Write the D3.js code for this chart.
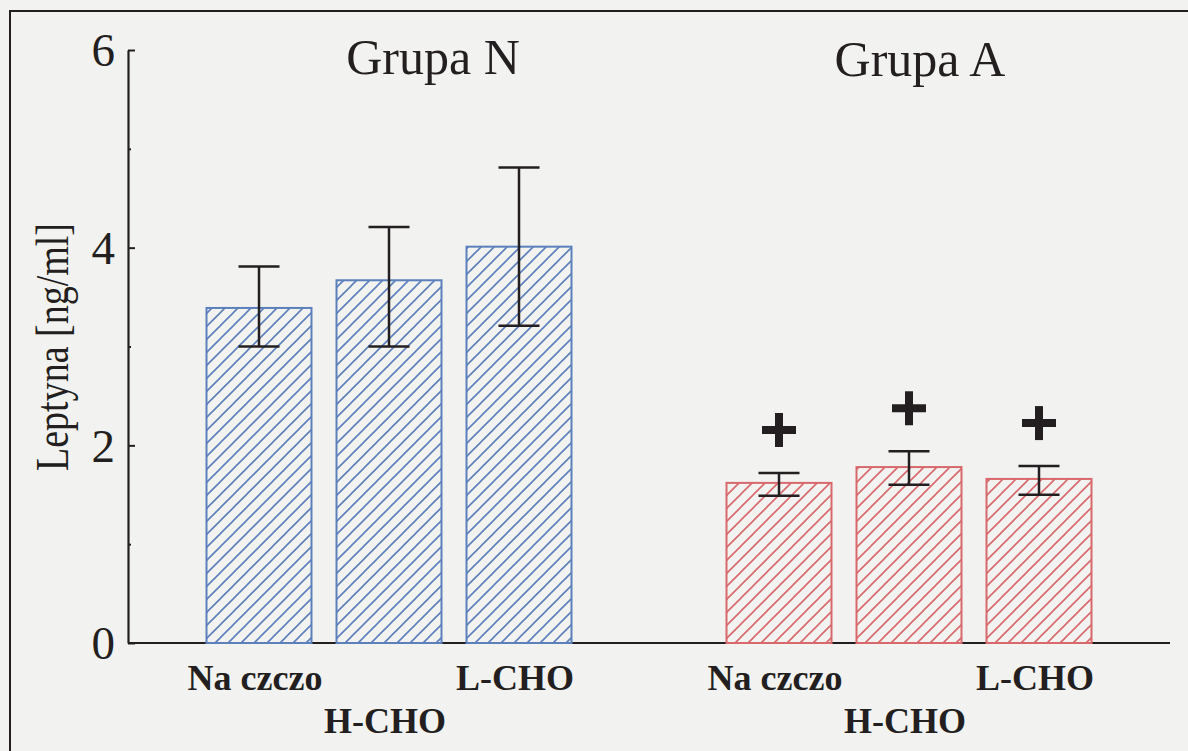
<!DOCTYPE html>
<html>
<head>
<meta charset="utf-8">
<script src="https://cdn.jsdelivr.net/npm/d3@7"></script>
<style>
  body { margin: 0; background: #f2f2f0; }
  svg { display: block; }
  text { font-family: "Liberation Serif", "Times New Roman", serif; fill: #231f20; }
</style>
</head>
<body>
<script>
// data
const categories = ["Na czczo", "H-CHO", "L-CHO"];
const groups = ["Grupa N", "Grupa A"];
const meanN = [3.39, 3.67, 4.01];
const upperN = [3.81, 4.21, 4.81];
const lowerN = [3.0, 3.0, 3.21];
const meanA = [1.62, 1.78, 1.66];
const upperA = [1.72, 1.94, 1.79];
const lowerA = [1.49, 1.60, 1.50];
const signifA = [true, true, true];
const yTicks = [0, 2, 4, 6];
const yMinor = [1, 3, 5];

const W = 1188, H = 751;
const ink = "#231f20";
const colors = ["#5b80bc", "#d8686b"];

var svg = d3.select("body").append("svg")
    .attr("width", W)
    .attr("height", H);

svg.append("rect").attr("width", W).attr("height", H).attr("fill", "#f2f2f0");

// frame of the scanned figure
svg.append("rect")
    .attr("x", 10).attr("y", 11)
    .attr("width", W + 20).attr("height", H + 20)
    .attr("fill", "none")
    .attr("stroke", ink)
    .attr("stroke-width", 2);

// hatch patterns
let defs = svg.append("defs");
colors.forEach(function (c, i) {
    let s = 13;
    defs.append("pattern")
        .attr("id", "hatch" + i)
        .attr("patternUnits", "userSpaceOnUse")
        .attr("width", s).attr("height", s)
        .append("path")
        .attr("d", `M-1,1 L1,-1 M0,${s} L${s},0 M${s - 1},${s + 1} L${s + 1},${s - 1}`)
        .attr("stroke", c)
        .attr("stroke-width", 1.6);
});

// one slot per bar, the empty slot splits the groups
let bars = [];
groups.forEach(function (g, gi) {
    let mean = gi == 0 ? meanN : meanA;
    let up = gi == 0 ? upperN : upperA;
    let lo = gi == 0 ? lowerN : lowerA;
    categories.forEach(function (c, ci) {
        bars.push({
            slot: gi * 4 + ci, group: gi, cat: c, row: ci % 2,
            v: mean[ci], up: up[ci], lo: lo[ci],
            sig: gi == 1 && signifA[ci]
        });
    });
});

let xScale = d3.scalePoint()
    .domain(d3.range(7))
    .range([259, 1039]);

let yScale = d3.scaleLinear()
    .domain([0, 6])
    .range([643, 50]);

let barW = 105;

// y axis
let yAxis = svg.append("g")
    .attr("transform", "translate(128,0)")
    .call(d3.axisLeft(yScale).tickValues(yTicks).tickSize(-7).tickSizeOuter(0).tickPadding(13)
        .tickFormat(d3.format("d")));
yAxis.select(".domain").attr("stroke", ink).attr("stroke-width", 2.2);
yAxis.selectAll(".tick line").attr("stroke", ink).attr("stroke-width", 2);
yAxis.selectAll(".tick text")
    .attr("font-size", 47)
    .attr("font-family", "Liberation Serif, serif")
    .attr("fill", ink)
    .attr("dy", "0.34em");

let yMinorAxis = svg.append("g")
    .attr("transform", "translate(128,0)")
    .call(d3.axisLeft(yScale).tickValues(yMinor).tickSize(-3).tickSizeOuter(0).tickFormat(""));
yMinorAxis.select(".domain").remove();
yMinorAxis.selectAll(".tick line").attr("stroke", ink).attr("stroke-width", 2);

// x baseline
svg.append("line")
    .attr("x1", 128).attr("x2", 1170)
    .attr("y1", yScale(0)).attr("y2", yScale(0))
    .attr("stroke", ink)
    .attr("stroke-width", 2.2);

// bars
svg.selectAll("rect.bar")
    .data(bars)
    .enter()
    .append("rect")
    .attr("class", "bar")
    .attr("x", d => xScale(d.slot) - barW / 2)
    .attr("y", d => yScale(d.v))
    .attr("width", barW)
    .attr("height", d => yScale(0) - yScale(d.v))
    .attr("fill", d => "url(#hatch" + d.group + ")")
    .attr("stroke", d => colors[d.group])
    .attr("stroke-width", 2);

// error bars
let capW = 41;
let err = svg.selectAll("g.err")
    .data(bars)
    .enter()
    .append("g")
    .attr("class", "err")
    .attr("stroke", ink)
    .attr("stroke-width", 2.5);
err.append("line")
    .attr("x1", d => xScale(d.slot)).attr("x2", d => xScale(d.slot))
    .attr("y1", d => yScale(d.up)).attr("y2", d => yScale(d.lo));
err.append("line")
    .attr("x1", d => xScale(d.slot) - capW / 2).attr("x2", d => xScale(d.slot) + capW / 2)
    .attr("y1", d => yScale(d.up)).attr("y2", d => yScale(d.up));
err.append("line")
    .attr("x1", d => xScale(d.slot) - capW / 2).attr("x2", d => xScale(d.slot) + capW / 2)
    .attr("y1", d => yScale(d.lo)).attr("y2", d => yScale(d.lo));

// significance pluses
let plus = 17;
let sig = svg.selectAll("g.sig")
    .data(bars.filter(d => d.sig))
    .enter()
    .append("g")
    .attr("class", "sig")
    .attr("stroke", ink)
    .attr("stroke-width", 8);
sig.append("line")
    .attr("x1", d => xScale(d.slot) - plus).attr("x2", d => xScale(d.slot) + plus)
    .attr("y1", d => yScale(d.up) - 43).attr("y2", d => yScale(d.up) - 43);
sig.append("line")
    .attr("x1", d => xScale(d.slot)).attr("x2", d => xScale(d.slot))
    .attr("y1", d => yScale(d.up) - 43 - plus).attr("y2", d => yScale(d.up) - 43 + plus);

// category labels, staggered in two rows
svg.selectAll("text.cat")
    .data(bars)
    .enter()
    .append("text")
    .attr("class", "cat")
    .attr("x", d => xScale(d.slot) - 4)
    .attr("y", d => d.row == 0 ? 690 : 733)
    .attr("text-anchor", "middle")
    .attr("font-size", 36)
    .attr("font-weight", "bold")
    .text(d => d.cat);

// group titles
svg.selectAll("text.grp")
    .data(groups)
    .enter()
    .append("text")
    .attr("class", "grp")
    .attr("x", (d, i) => (xScale(i * 4) + xScale(i * 4 + 2)) / 2 + 44 - i * 33)
    .attr("y", (d, i) => 74 + i * 2)
    .attr("text-anchor", "middle")
    .attr("font-size", 50)
    .text(d => d);

// y title
svg.append("text")
    .attr("transform", "translate(68,347) rotate(-90)")
    .attr("text-anchor", "middle")
    .attr("font-size", 46)
    .attr("textLength", 248)
    .attr("lengthAdjust", "spacingAndGlyphs")
    .text("Leptyna [ng/ml]");
</script>
</body>
</html>
